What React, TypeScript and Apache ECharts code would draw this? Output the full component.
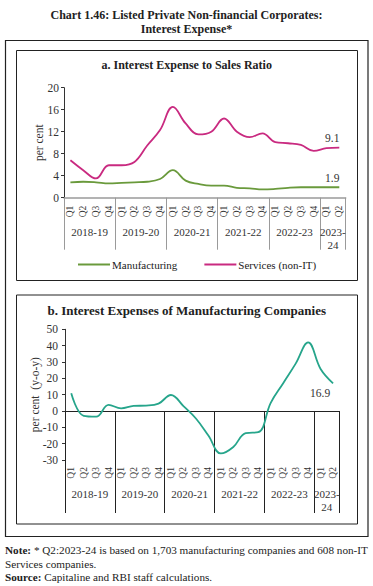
import React, { useEffect, useRef } from 'react';
import * as echarts from 'echarts';

const quarterLabels = ['Q1','Q2','Q3','Q4','Q1','Q2','Q3','Q4','Q1','Q2','Q3','Q4','Q1','Q2','Q3','Q4','Q1','Q2','Q3','Q4','Q1','Q2'];
const yearLabels = ['2018-19','2019-20','2020-21','2021-22','2022-23','2023-24'];

const manufacturingRatio = [2.8,2.9,2.8,2.6,2.7,2.8,2.9,3.4,5.0,3.1,2.5,2.2,2.2,1.8,1.7,1.5,1.6,1.8,1.9,1.9,1.9,1.9];
const servicesRatio = [6.8,5.0,3.5,5.9,5.9,6.5,9.5,12.3,16.5,13.5,11.5,12.0,14.4,12.0,11.0,11.7,10.1,9.9,9.6,8.5,9.0,9.1];
const manufacturingInterestGrowth = [10.8,-3.0,-3.5,3.8,1.6,3.1,3.3,4.5,9.8,3.0,-4.6,-15.0,-26.0,-22.0,-13.5,-13.0,5.0,17.0,29.0,42.0,25.7,16.9];

const ratioTicks = { min: 0, max: 20, interval: 4 };
const growthTicks = { min: -30, max: 50, interval: 10 };

const FONT = '"Liberation Serif", "DejaVu Serif", serif';

// year boundaries derived from the quarter labels
const boundaries: number[] = [];
quarterLabels.forEach((q, i) => { if (q === 'Q1') boundaries.push(i); });
boundaries.push(quarterLabels.length);
const midpoints = yearLabels.map((_, i) => (boundaries[i] + boundaries[i + 1]) / 2);
const yearFormatter = (v: number) => {
  const i = midpoints.findIndex((m) => Math.abs(m - v) < 1e-6);
  if (i < 0) return '';
  const span = boundaries[i + 1] - boundaries[i];
  return span < 4 ? yearLabels[i].replace('-', '-\n') : yearLabels[i];
};

const withEndLabel = (arr: number[], label: any) =>
  arr.map((v, i) => (i === arr.length - 1 ? { value: v, label: { show: true, ...label } } : v));

export default function App() {
  const ref = useRef<HTMLDivElement>(null);
  useEffect(() => {
    if (!ref.current) return;
    const chart = echarts.init(ref.current, undefined, { renderer: 'svg' });
    const axisLabelBase = { fontFamily: FONT, color: '#333' };
    const endLabelStyle = { fontFamily: FONT, fontSize: 11.5, color: '#333', formatter: (p: any) => Number(p.value).toFixed(1) };
    const lineBase = { type: 'line', smooth: 0.4, showSymbol: true, symbol: 'circle', symbolSize: 0, label: { show: false }, emphasis: { disabled: true } };
    const option: any = {
      animation: false,
      backgroundColor: '#fff',
      textStyle: { fontFamily: FONT },
      grid: [
        { left: 64, top: 87.7, width: 281.7, height: 110, containLabel: false },
        { left: 65, top: 329.3, width: 274.3, height: 130.7, containLabel: false },
      ],
      legend: {
        left: 73, top: 254, icon: 'rect', itemWidth: 32, itemHeight: 2, itemGap: 27, itemStyle: { borderWidth: 0 },
        textStyle: { fontFamily: FONT, fontSize: 11, color: '#222', padding: [0, 0, 0, -3] },
        data: ['Manufacturing', 'Services (non-IT)'],
      },
      xAxis: [
        // panel a quarters
        {
          type: 'category', gridIndex: 0, data: quarterLabels, position: 'bottom', boundaryGap: true,
          axisLine: { lineStyle: { color: '#9a9a9a', width: 1.5 } },
          axisTick: { length: 4, lineStyle: { color: '#333' } },
          axisLabel: { ...axisLabelBase, rotate: 90, fontSize: 9.5, margin: 8, interval: 0 },
        },
        // panel a years
        {
          type: 'value', gridIndex: 0, min: 0, max: boundaries[boundaries.length - 1], position: 'bottom',
          axisLine: { show: false, onZero: false }, splitLine: { show: false },
          axisTick: { show: true, length: 52, customValues: boundaries, lineStyle: { color: '#9a9a9a' } },
          axisLabel: { ...axisLabelBase, fontSize: 11, customValues: midpoints, formatter: yearFormatter, margin: 28, lineHeight: 13 },
        },
        // panel b zero line
        {
          type: 'category', gridIndex: 1, data: quarterLabels, position: 'bottom', boundaryGap: true,
          axisLine: { onZero: true, onZeroAxisIndex: 1, lineStyle: { color: '#222', width: 1 } },
          axisTick: { length: 4, lineStyle: { color: '#222' } },
          axisLabel: { show: false },
        },
        // panel b quarter labels
        {
          type: 'category', gridIndex: 1, data: quarterLabels, position: 'bottom', boundaryGap: true,
          axisLine: { show: false, onZero: false }, axisTick: { show: false },
          axisLabel: { ...axisLabelBase, rotate: 90, fontSize: 9.5, margin: 7, interval: 0 },
        },
        // panel b years (line sits on zero, labels stay at the bottom)
        {
          type: 'value', gridIndex: 1, min: 0, max: boundaries[boundaries.length - 1], position: 'bottom',
          axisLine: { show: false, onZero: true, onZeroAxisIndex: 1 }, splitLine: { show: false },
          axisTick: { show: true, length: 102, customValues: boundaries, lineStyle: { color: '#222' } },
          axisLabel: { ...axisLabelBase, fontSize: 11, customValues: midpoints, formatter: yearFormatter, margin: 27, lineHeight: 13 },
        },
      ],
      yAxis: [
        {
          type: 'value', gridIndex: 0, ...ratioTicks,
          name: 'per cent', nameLocation: 'middle', nameGap: 19, nameRotate: 90, nameMoveOverlap: false,
          nameTextStyle: { fontFamily: FONT, fontSize: 11.5, color: '#333' },
          axisLine: { show: true, lineStyle: { color: '#333' } },
          axisTick: { show: true, length: 3, lineStyle: { color: '#333' } },
          axisLabel: { ...axisLabelBase, fontSize: 11.5, margin: 5 },
          splitLine: { show: false },
        },
        {
          type: 'value', gridIndex: 1, ...growthTicks,
          name: 'per cent  (y-o-y)', nameLocation: 'middle', nameGap: 24, nameRotate: 90, nameMoveOverlap: false,
          nameTextStyle: { fontFamily: FONT, fontSize: 11.5, color: '#333' },
          axisLine: { show: true, onZero: false, lineStyle: { color: '#333' } },
          axisTick: { show: true, length: 3, lineStyle: { color: '#333' } },
          axisLabel: { ...axisLabelBase, fontSize: 11.5, margin: 7 },
          splitLine: { show: false },
        },
      ],
      series: [
        {
          ...lineBase, name: 'Manufacturing', xAxisIndex: 0, yAxisIndex: 0,
          color: '#6a9a3c', lineStyle: { width: 1.8 },
          data: withEndLabel(manufacturingRatio, { position: 'top', offset: [-7, 0], distance: 3, ...endLabelStyle }),
        },
        {
          ...lineBase, name: 'Services (non-IT)', xAxisIndex: 0, yAxisIndex: 0,
          color: '#c92a80', lineStyle: { width: 1.8 },
          data: withEndLabel(servicesRatio, { position: 'top', offset: [-7, 0], distance: 4, ...endLabelStyle }),
        },
        {
          ...lineBase, name: 'Interest expenses growth', xAxisIndex: 2, yAxisIndex: 1,
          color: '#26a58b', lineStyle: { width: 1.8 },
          data: withEndLabel(manufacturingInterestGrowth, { position: 'bottom', offset: [-13, 0], distance: 4, ...endLabelStyle }),
        },
      ],
      graphic: [
        { type: 'text', style: { text: 'Chart 1.46: Listed Private Non-financial Corporates:', x: 186.5, y: 15, align: 'center', verticalAlign: 'middle', fontFamily: FONT, fontWeight: 'bold', fontSize: 12, fill: '#222' } },
        { type: 'text', style: { text: 'Interest Expense*', x: 186.5, y: 28.5, align: 'center', verticalAlign: 'middle', fontFamily: FONT, fontWeight: 'bold', fontSize: 12, fill: '#222' } },
        { type: 'rect', shape: { x: 5.5, y: 40.5, width: 362.5, height: 496 }, style: { fill: 'none', stroke: '#222', lineWidth: 1.2 } },
        { type: 'rect', shape: { x: 16.5, y: 50.5, width: 341, height: 230 }, style: { fill: 'none', stroke: '#222', lineWidth: 1 } },
        { type: 'rect', shape: { x: 16.5, y: 295, width: 341, height: 229 }, style: { fill: 'none', stroke: '#222', lineWidth: 1 } },
        { type: 'text', style: { text: 'a. Interest Expense to Sales Ratio', x: 186.7, y: 65, align: 'center', verticalAlign: 'middle', fontFamily: FONT, fontWeight: 'bold', fontSize: 12, fill: '#222' } },
        { type: 'text', style: { text: 'b. Interest Expenses of Manufacturing Companies', x: 186.7, y: 310, align: 'center', verticalAlign: 'middle', fontFamily: FONT, fontWeight: 'bold', fontSize: 13, fill: '#222' } },
        { type: 'text', style: { text: '{b|Note:} * Q2:2023-24 is based on 1,703 manufacturing companies and 608 non-IT', x: 5, y: 550, verticalAlign: 'middle', fontFamily: FONT, fontSize: 11.2, fill: '#222', rich: { b: { fontWeight: 'bold', fontFamily: FONT, fontSize: 11.2, fill: '#222' } } } },
        { type: 'text', style: { text: 'Services companies.', x: 5, y: 563.5, verticalAlign: 'middle', fontFamily: FONT, fontSize: 11.2, fill: '#222' } },
        { type: 'text', style: { text: '{b|Source:} Capitaline and RBI staff calculations.', x: 5, y: 577, verticalAlign: 'middle', fontFamily: FONT, fontSize: 11.2, fill: '#222', rich: { b: { fontWeight: 'bold', fontFamily: FONT, fontSize: 11.2, fill: '#222' } } } },
      ],
    };
    chart.setOption(option);
    return () => chart.dispose();
  }, []);
  return <div ref={ref} style={{ position: 'absolute', left: 0, top: 0, width: 373, height: 586, background: '#fff' }} />;
}
